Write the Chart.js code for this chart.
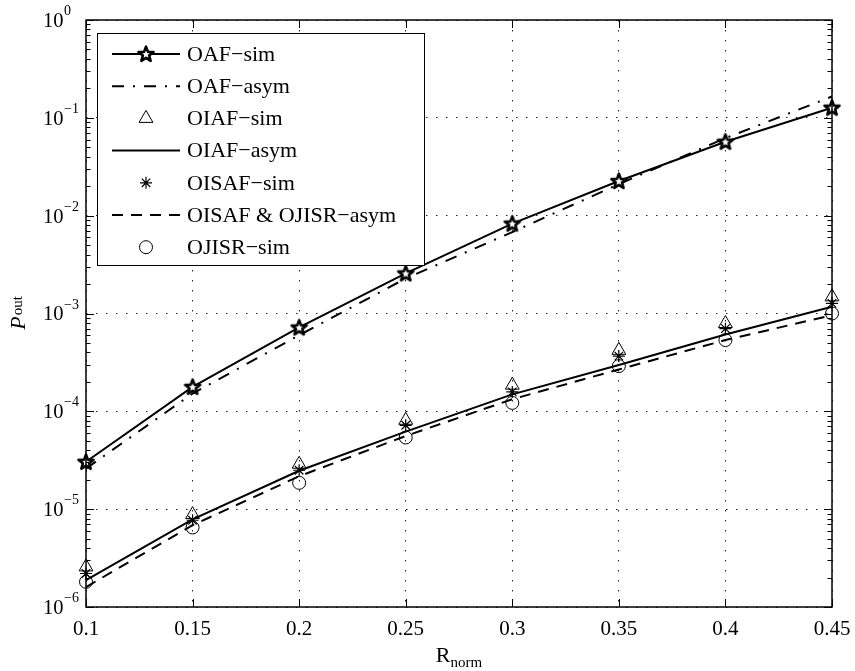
<!DOCTYPE html>
<html>
<head>
<meta charset="utf-8">
<script src="https://cdn.jsdelivr.net/npm/chart.js@4.4.0/dist/chart.umd.min.js"></script>
<style>
html,body{margin:0;padding:0;background:#fff;}
#wrap{width:855px;height:671px;position:relative;}
</style>
</head>
<body>
<div id="wrap"><canvas id="c" width="855" height="671"></canvas></div>
<script>
// ---- data ----
const rNorm = [0.1, 0.15, 0.2, 0.25, 0.3, 0.35, 0.4, 0.45];
const xTickLabels = ['0.1', '0.15', '0.2', '0.25', '0.3', '0.35', '0.4', '0.45'];
const yTickExponents = [-6, -5, -4, -3, -2, -1, 0];
const oafSim    = [3.05e-5, 1.78e-4, 7.2e-4, 2.57e-3, 8.3e-3, 2.26e-2, 5.7e-2, 0.127];
const oafAsym   = [2.6e-5, 1.52e-4, 6.0e-4, 2.28e-3, 6.8e-3, 2.1e-2, 6.2e-2, 0.165];
const oiafSim   = [2.57e-6, 8.8e-6, 2.88e-5, 8.1e-5, 1.85e-4, 4.2e-4, 7.9e-4, 1.48e-3];
const oiafAsym  = [1.88e-6, 7.85e-6, 2.47e-5, 6.2e-5, 1.49e-4, 2.97e-4, 6.1e-4, 1.17e-3];
const oisafSim  = [2.2e-6, 7.7e-6, 2.5e-5, 7.2e-5, 1.58e-4, 3.67e-4, 7.0e-4, 1.27e-3];
const ojisrAsym = [1.6e-6, 6.86e-6, 2.17e-5, 5.6e-5, 1.33e-4, 2.68e-4, 5.35e-4, 9.6e-4];
const ojisrSim  = [1.81e-6, 6.5e-6, 1.86e-5, 5.4e-5, 1.22e-4, 2.9e-4, 5.35e-4, 1.0e-3];
const seriesNames = ['OAF\u2212sim', 'OAF\u2212asym', 'OIAF\u2212sim', 'OIAF\u2212asym', 'OISAF\u2212sim', 'OISAF & OJISR\u2212asym', 'OJISR\u2212sim'];
const xTitle = ['R', 'norm'];
const yTitle = ['P', 'out'];

const FONT = '"Liberation Serif", "Times New Roman", serif';

// five-pointed star marker
function makeStar() {
  const c = document.createElement('canvas');
  c.width = 22; c.height = 22;
  const g = c.getContext('2d');
  const cx = 11, cy = 11.5, R = 7.9, r = 3.3;
  g.beginPath();
  for (let i = 0; i < 10; i++) {
    const ang = -Math.PI / 2 + i * Math.PI / 5;
    const rad = i % 2 === 0 ? R : r;
    const px = cx + rad * Math.cos(ang), py = cy + rad * Math.sin(ang);
    if (i === 0) g.moveTo(px, py); else g.lineTo(px, py);
  }
  g.closePath();
  g.fillStyle = '#fff';
  g.fill();
  g.lineWidth = 2.6;
  g.lineJoin = 'round';
  g.strokeStyle = '#000';
  g.stroke();
  return c;
}
const starImg = makeStar();

const mk = arr => rNorm.map((x, i) => ({ x: x, y: arr[i] }));
const isDecade = v => Math.abs(Math.log10(v) - Math.round(Math.log10(v))) < 1e-9;

const datasets = [
  { label: seriesNames[0], data: mk(oafSim), borderColor: '#000', borderWidth: 2,
    pointStyle: starImg, pointRadius: 9, showLine: true, clip: false },
  { label: seriesNames[1], data: mk(oafAsym), borderColor: '#000', borderWidth: 2,
    borderDash: [12, 9, 2, 9], pointRadius: 0, showLine: true, clip: false },
  { label: seriesNames[2], data: mk(oiafSim), showLine: false, pointStyle: 'triangle',
    pointRadius: 8, pointBorderWidth: 1, pointBorderColor: '#000',
    pointBackgroundColor: 'rgba(0,0,0,0)', borderColor: '#000', clip: false },
  { label: seriesNames[3], data: mk(oiafAsym), borderColor: '#000', borderWidth: 2,
    pointRadius: 0, showLine: true, clip: false },
  { label: seriesNames[4], data: mk(oisafSim), showLine: false, pointStyle: 'star',
    pointRadius: 6, pointBorderWidth: 1.2, pointBorderColor: '#000',
    pointBackgroundColor: 'rgba(0,0,0,0)', borderColor: '#000', clip: false },
  { label: seriesNames[5], data: mk(ojisrAsym), borderColor: '#000', borderWidth: 2,
    borderDash: [11, 8], pointRadius: 0, showLine: true, clip: false },
  { label: seriesNames[6], data: mk(ojisrSim), showLine: false, pointStyle: 'circle',
    pointRadius: 6.5, pointBorderWidth: 1, pointBorderColor: '#000',
    pointBackgroundColor: 'rgba(0,0,0,0)', borderColor: '#000', clip: false }
];

const framePlugin = {
  id: 'frame',
  afterDatasetsDraw(chart) {
    const { ctx, chartArea: a, scales: { x, y } } = chart;
    ctx.save();
    ctx.setLineDash([]);
    ctx.strokeStyle = '#000';
    // ticks
    ctx.lineWidth = 1;
    ctx.beginPath();
    y.ticks.forEach(t => {
      const py = Math.round(y.getPixelForValue(t.value)) + 0.5;
      const L = isDecade(t.value) ? 8 : 4.5;
      ctx.moveTo(a.left, py); ctx.lineTo(a.left + L, py);
      ctx.moveTo(a.right, py); ctx.lineTo(a.right - L, py);
    });
    x.ticks.forEach(t => {
      const px = Math.round(x.getPixelForValue(t.value)) + 0.5;
      ctx.moveTo(px, a.bottom); ctx.lineTo(px, a.bottom - 8);
      ctx.moveTo(px, a.top); ctx.lineTo(px, a.top + 8);
    });
    ctx.stroke();
    // frame
    ctx.lineWidth = 1.5;
    ctx.strokeRect(a.left, a.top, a.right - a.left, a.bottom - a.top);
    ctx.restore();

    // legend
    ctx.save();
    const L = { left: a.left + 11, top: a.top + 13, right: a.left + 338, bottom: a.top + 245 };
    ctx.fillStyle = '#fff';
    ctx.fillRect(L.left, L.top, L.right - L.left, L.bottom - L.top);
    ctx.strokeStyle = '#000';
    ctx.lineWidth = 1;
    ctx.setLineDash([]);
    ctx.strokeRect(Math.round(L.left) + 0.5, Math.round(L.top) + 0.5, L.right - L.left, L.bottom - L.top);
    chart.data.datasets.forEach((ds, i) => {
      const cy = L.top + 21 + i * 32.2;
      const x0 = L.left + 15, x1 = L.left + 83, xm = (x0 + x1) / 2;
      if (ds.showLine !== false) {
        ctx.save();
        ctx.strokeStyle = '#000';
        ctx.lineWidth = ds.borderWidth || 2;
        ctx.setLineDash(ds.borderDash || []);
        ctx.beginPath();
        ctx.moveTo(x0, cy); ctx.lineTo(x1, cy);
        ctx.stroke();
        ctx.restore();
      }
      if (ds.pointRadius > 0) {
        ctx.save();
        ctx.setLineDash([]);
        ctx.strokeStyle = '#000';
        ctx.fillStyle = ds.pointBackgroundColor || 'rgba(0,0,0,0)';
        ctx.lineWidth = ds.pointBorderWidth || 1;
        Chart.helpers.drawPoint(ctx, { pointStyle: ds.pointStyle, radius: ds.pointRadius,
          borderWidth: ds.pointBorderWidth || 1, rotation: 0 }, xm, cy);
        ctx.restore();
      }
      ctx.fillStyle = '#000';
      ctx.font = '22px ' + FONT;
      ctx.textAlign = 'left';
      ctx.textBaseline = 'middle';
      ctx.fillText(ds.label, L.left + 90, cy + 1);
    });
    ctx.restore();
  },
  afterDraw(chart) {
    const { ctx, chartArea: a, scales: { x, y } } = chart;
    ctx.save();
    ctx.fillStyle = '#000';
    // x tick labels
    ctx.font = '21px ' + FONT;
    ctx.textAlign = 'center';
    ctx.textBaseline = 'alphabetic';
    rNorm.forEach((v, i) => {
      ctx.fillText(xTickLabels[i], x.getPixelForValue(v), a.bottom + 28);
    });
    // y tick labels with superscripts (base "10" left-aligned in a column)
    yTickExponents.forEach(e => {
      const py = y.getPixelForValue(Math.pow(10, e));
      const expTxt = (e < 0 ? '\u2212' : '') + Math.abs(e);
      const bx = a.left - 43;
      ctx.textAlign = 'left';
      ctx.font = '20.5px ' + FONT;
      ctx.textBaseline = 'middle';
      ctx.fillText('10', bx, py + 1.5);
      const wTen = ctx.measureText('10').width;
      ctx.font = '14px ' + FONT;
      ctx.textBaseline = 'alphabetic';
      ctx.fillText(expTxt, bx + wTen + 0.5, py - 5);
    });
    // x title
    ctx.textAlign = 'left';
    ctx.textBaseline = 'alphabetic';
    ctx.font = '22px ' + FONT;
    const wR = ctx.measureText(xTitle[0]).width;
    ctx.font = '15px ' + FONT;
    const wN = ctx.measureText(xTitle[1]).width;
    const cx = (a.left + a.right) / 2;
    const sx = cx - (wR + wN) / 2;
    ctx.font = '22px ' + FONT;
    ctx.fillText(xTitle[0], sx, a.bottom + 55);
    ctx.font = '15px ' + FONT;
    ctx.fillText(xTitle[1], sx + wR, a.bottom + 60);
    // y title (rotated)
    ctx.save();
    ctx.translate(25, (a.top + a.bottom) / 2);
    ctx.rotate(-Math.PI / 2);
    ctx.font = 'italic 22px ' + FONT;
    const wP = ctx.measureText(yTitle[0]).width;
    ctx.font = '15px ' + FONT;
    const wO = ctx.measureText(yTitle[1]).width;
    const s0 = -(wP + wO) / 2;
    ctx.font = 'italic 22px ' + FONT;
    ctx.fillText(yTitle[0], s0, 0);
    ctx.font = '15px ' + FONT;
    ctx.fillText(yTitle[1], s0 + wP + 1, -3);
    ctx.restore();
    ctx.restore();
  }
};

new Chart(document.getElementById('c'), {
  type: 'line',
  data: { datasets: datasets },
  options: {
    responsive: false,
    animation: false,
    events: [],
    layout: { padding: { left: 86, right: 23, top: 20, bottom: 64 } },
    plugins: { legend: { display: false }, tooltip: { enabled: false }, title: { display: false } },
    elements: { line: { tension: 0 } },
    scales: {
      x: {
        type: 'linear', min: 0.1, max: 0.45,
        afterBuildTicks: s => { s.ticks = rNorm.map(v => ({ value: v })); },
        afterFit: s => { s.height = 0; },
        ticks: { display: false, autoSkip: false },
        grid: { drawTicks: false, color: '#222', lineWidth: 1 },
        border: { display: false, dash: [1.5, 8.5] }
      },
      y: {
        type: 'logarithmic', min: 1e-6, max: 1,
        afterBuildTicks: s => {
          const t = [];
          for (let e = -6; e <= 0; e++) {
            for (let m = 1; m <= 9; m++) {
              const v = m * Math.pow(10, e);
              if (v <= 1.0000001) t.push({ value: v, major: m === 1 });
            }
          }
          s.ticks = t;
        },
        afterFit: s => { s.width = 0; },
        ticks: { display: false, autoSkip: false },
        grid: { drawTicks: false, lineWidth: 1,
          color: c => (c.tick && isDecade(c.tick.value)) ? '#222' : 'rgba(0,0,0,0)' },
        border: { display: false, dash: [1.5, 8.5] }
      }
    }
  },
  plugins: [framePlugin]
});
</script>
</body>
</html>
